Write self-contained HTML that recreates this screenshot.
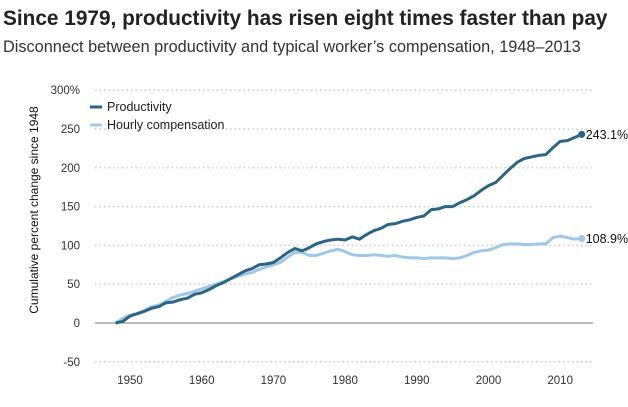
<!DOCTYPE html>
<html><head><meta charset="utf-8"><style>
body{margin:0;width:628px;height:402px;background:#fff;font-family:"Liberation Sans",sans-serif;overflow:hidden}
</style></head><body>
<svg width="628" height="402" id="c">
<text x="3" y="25" font-size="20.8" font-weight="bold" fill="#222">Since 1979, productivity has risen eight times faster than pay</text>
<text x="3" y="52" font-size="16.3" fill="#333">Disconnect between productivity and typical worker’s compensation, 1948–2013</text>
<text transform="translate(38,210) rotate(-90)" text-anchor="middle" font-size="12" fill="#111">Cumulative percent change since 1948</text>
<g id="grid"></g><g id="lines"></g>
<line x1="90" y1="107" x2="102" y2="107" stroke="#2b6586" stroke-width="3"/>
<text x="107" y="111" font-size="12.5" fill="#222">Productivity</text>
<line x1="90" y1="125" x2="102" y2="125" stroke="#a5cbec" stroke-width="3"/>
<text x="107" y="129" font-size="12.5" fill="#222">Hourly compensation</text>
</svg>
<script>
const years=[];for(let y=1948;y<=2013;y++)years.push(y);
const productivity=[0,2,9,12,15,19,21,26,27,30,32,37,39,43,48,52,57,62,67,70,75,76,78,84,91,96,93,97,102,105,107,108,107,111,108,114,119,122,127,128,131,133,136,138,146,147,150,150,155,159,164,171,177,181,190,199,207,212,214,216,217,226,234,235,239,243.1];
const compensation=[0,6,10,12,16,21,23,28,33,36,38,41,44,47,50,53,57,60,63,65,69,72,75,78,85,91,91,87,87,90,93,95,92,88,87,87,88,87,86,87,85,84,84,83,84,84,84,83,84,87,91,93,94,97,101,102,102,101,101,102,102,110,112,110,108,108.9];
const yTicks=[-50,0,50,100,150,200,250,300];
const xTicks=[1950,1960,1970,1980,1990,2000,2010];
const X=y=>130+(y-1950)*7.17, Y=v=>323-v*0.776;
const NS="http://www.w3.org/2000/svg";
const g=document.getElementById('grid'),L=document.getElementById('lines');
function mk(t,a,p){const e=document.createElementNS(NS,t);for(const k in a)e.setAttribute(k,a[k]);p.appendChild(e);return e;}
yTicks.forEach(v=>{
 const l=mk('line',{x1:95,x2:593,y1:Y(v),y2:Y(v),stroke:v===0?'#777':'#ccc','stroke-width':v===0?1:1.5,'stroke-dasharray':v===0?'':'1.5,3'},g);
 
 
 const t=mk('text',{x:80,y:Y(v)+4,'text-anchor':'end','font-size':11.5,fill:'#333'},g);
 t.textContent=v+(v===300?'%':'');
 
 
});
xTicks.forEach(x=>{
 const t=mk('text',{x:X(x),y:384,'text-anchor':'middle','font-size':11.5,fill:'#333'},g);
 t.textContent=x;
 
 
});
function series(d,c,name){
 const p=mk('polyline',{points:d.map((v,i)=>X(years[i])+','+Y(v)).join(' '),fill:'none',stroke:c,'stroke-width':3,'stroke-linejoin':'round'},L);
 
 
 const n=d.length-1;
 const dot=mk('circle',{cx:X(years[n]),cy:Y(d[n]),r:3.5,fill:c},L);
 
 
 const t=mk('text',{x:X(years[n])+4,y:Y(d[n])+4.5,'font-size':12.5,fill:'#111'},L);
 t.textContent=d[n].toFixed(1)+'%';
 
 
}
series(compensation,'#9fc7ea','compensation');
series(productivity,'#2b6586','productivity');
</script>
</body></html>
